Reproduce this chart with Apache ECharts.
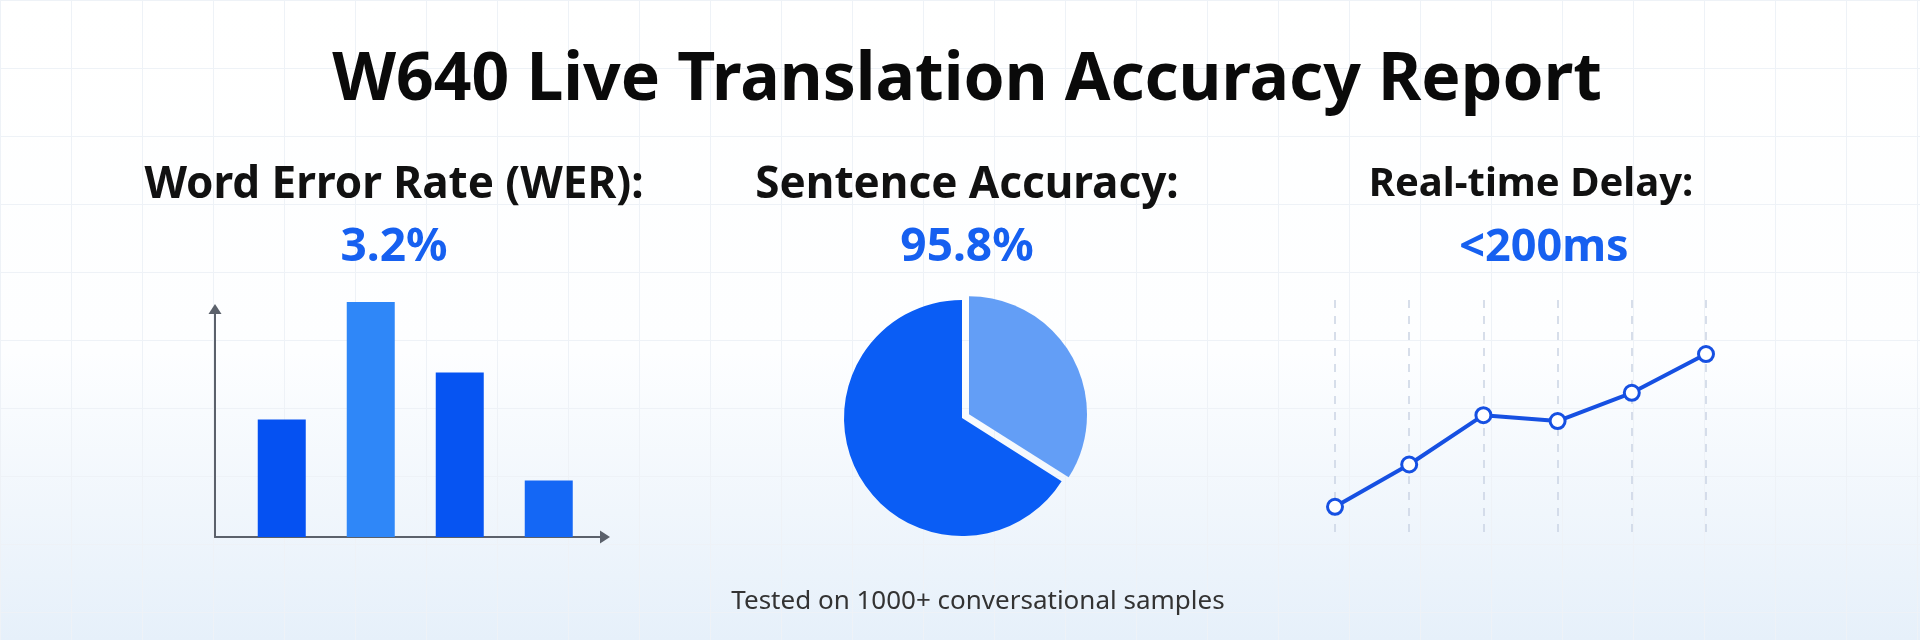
<!DOCTYPE html>
<html>
<head>
<meta charset="utf-8">
<script src="https://cdn.jsdelivr.net/npm/echarts@6/dist/echarts.min.js"></script>
<style>
  html, body { margin: 0; padding: 0; }
  #chart { width: 1920px; height: 640px;
    background: linear-gradient(to bottom, #ffffff 0%, #fdfeff 55%, #f0f6fc 80%, #e6f0fa 100%); }
</style>
</head>
<body>
<div id="chart"></div>
<script>
// ---- Data ----
const mainTitle = 'W640 Live Translation Accuracy Report';
const panelTitles = ['Word Error Rate (WER):', 'Sentence Accuracy:', 'Real-time Delay:'];
const panelValues = ['3.2%', '95.8%', '<200ms'];
const footnote = 'Tested on 1000+ conversational samples';

const werCategories = ['Set 1', 'Set 2', 'Set 3', 'Set 4'];
const werValues = [2.5, 5.0, 3.5, 1.2];

const accuracyNames = ['Other', 'Accurate'];
const accuracyValues = [34, 66];

const delayCategories = ['T1', 'T2', 'T3', 'T4', 'T5', 'T6'];
const delayValues = [12, 30, 51, 48.5, 60.5, 77];

// ---- Chart ----
const chart = echarts.init(document.getElementById('chart'), null, { renderer: 'canvas' });
const FONT = '"Noto Sans", "Open Sans", sans-serif';
const barColors = ['#0551F2', '#2F87F8', '#0654F2', '#1467F5'];

function txt(text, x, y, size, weight, color) {
  return {
    type: 'text', silent: true, z: 100,
    style: { text: text, x: x, y: y, fill: color, font: weight + ' ' + size + 'px ' + FONT,
      textAlign: 'center', textVerticalAlign: 'middle' }
  };
}

const option = {
  backgroundColor: 'transparent',
  animation: false,
  graphic: [
    txt(mainTitle, 967, 81, 66, 'bold', '#0a0a0a'),
    txt(panelTitles[0], 394, 185, 44, 'bold', '#111111'),
    txt(panelTitles[1], 967, 185, 44, 'bold', '#111111'),
    txt(panelTitles[2], 1531, 185, 40, 'bold', '#111111'),
    txt(panelValues[0], 394, 248, 46, 'bold', '#1660F0'),
    txt(panelValues[1], 967, 248, 46, 'bold', '#1660F0'),
    txt(panelValues[2], 1544, 248, 45, 'bold', '#1660F0'),
    txt(footnote, 978, 602, 26, 'normal', '#333333')
  ],
  grid: [
    { left: -20.5, top: -12.4, width: 1960.5, height: 652.4 },      // background grid
    { left: 215, top: 309, width: 390, height: 228 },                 // bar chart
    { left: 1335, top: 300, width: 371, height: 235 }                 // line chart
  ],
  xAxis: [
    { gridIndex: 0, type: 'value', min: 0, max: 1960.5, interval: 72.5, silent: true, z: 0,
      axisLine: { show: false }, axisTick: { show: false }, axisLabel: { show: false },
      splitLine: { show: true, lineStyle: { color: '#eef2f7', width: 1 } } },
    { gridIndex: 1, type: 'value', min: 0.25, max: 4.632,
      axisLine: { show: true, symbol: ['none', 'triangle'], symbolSize: [13, 10],
        lineStyle: { color: '#5b616b', width: 2 } },
      axisTick: { show: false }, axisLabel: { show: false }, splitLine: { show: false } },
    { gridIndex: 2, type: 'category', data: delayCategories, boundaryGap: false,
      axisLine: { show: false }, axisTick: { show: false }, axisLabel: { show: false },
      splitLine: { show: true, lineStyle: { color: '#cad4e3', width: 1.5, type: [8, 8] } } }
  ],
  yAxis: [
    { gridIndex: 0, type: 'value', min: 0, max: 652.4, interval: 69.4, inverse: true, silent: true, z: 0,
      axisLine: { show: false }, axisTick: { show: false }, axisLabel: { show: false },
      splitLine: { show: true, lineStyle: { color: '#eef2f7', width: 1 } } },
    { gridIndex: 1, type: 'value', min: 0, max: 4.85,
      axisLine: { show: true, symbol: ['none', 'triangle'], symbolSize: [13, 10],
        lineStyle: { color: '#5b616b', width: 2 } },
      axisTick: { show: false }, axisLabel: { show: false }, splitLine: { show: false } },
    { gridIndex: 2, type: 'value', min: 0, max: 100,
      axisLine: { show: false }, axisTick: { show: false }, axisLabel: { show: false },
      splitLine: { show: false } }
  ],
  series: [
    {
      type: 'bar', xAxisIndex: 1, yAxisIndex: 1, barWidth: 48, clip: false,
      data: werValues.map((v, i) => ({ name: werCategories[i], value: [i + 1, v],
        itemStyle: { color: barColors[i] } }))
    },
    {
      type: 'pie', center: [962, 418], radius: 118, startAngle: 90, clockwise: true,
      label: { show: false }, labelLine: { show: false }, selectedMode: 'multiple', selectedOffset: 8,
      data: accuracyNames.map((n, i) => ({ name: n, value: accuracyValues[i], selected: i === 0,
        itemStyle: { color: i === 0 ? '#639EF6' : '#0A5DF5' } }))
    },
    {
      type: 'line', xAxisIndex: 2, yAxisIndex: 2, data: delayValues,
      symbol: 'circle', symbolSize: 15,
      lineStyle: { color: '#1650E2', width: 4 },
      itemStyle: { color: '#ffffff', borderColor: '#1650E2', borderWidth: 3 }
    }
  ]
};
chart.setOption(option);
</script>
</body>
</html>
